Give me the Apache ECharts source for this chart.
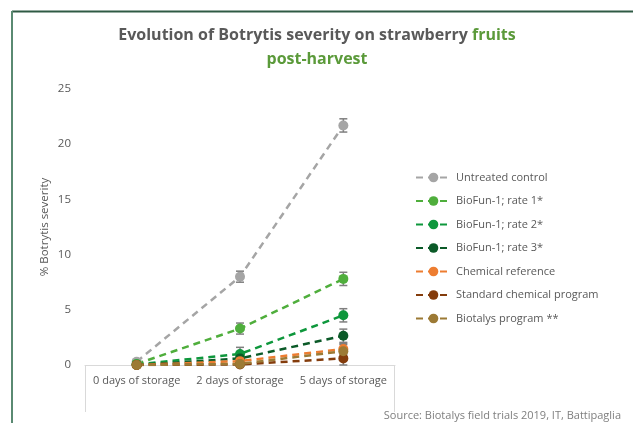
<!DOCTYPE html>
<html>
<head>
<meta charset="utf-8">
<script src="https://cdn.jsdelivr.net/npm/echarts@6/dist/echarts.min.js"></script>
<style>
  html, body { margin: 0; padding: 0; background: #fff; }
  #chart { width: 633px; height: 423px; }
</style>
</head>
<body>
<div id="chart"></div>
<script>
const categories = ["0 days of storage", "2 days of storage", "5 days of storage"];

const untreated = [0.3, 8.0, 21.7];
const rate1 = [0.1, 3.3, 7.8];
const rate2 = [0.05, 1.0, 4.5];
const rate3 = [0.0, 0.6, 2.65];
const chemRef = [0.0, 0.35, 1.45];
const stdChem = [0.0, 0.05, 0.6];
const biotalys = [0.0, 0.1, 1.25];

const untreatedErr = [0.2, 0.5, 0.6];
const rate1Err = [0.1, 0.5, 0.6];
const rate2Err = [0.0, 0.6, 0.6];
const rate3Err = [0.0, 0.5, 0.6];
const chemRefErr = [0.0, 0.3, 0.5];
const stdChemErr = [0.0, 0.2, 0.6];
const biotalysErr = [0.0, 0.2, 0.6];

const yTicks = [0, 5, 10, 15, 20, 25];

const font = "'Open Sans', sans-serif";
const textGray = "#595959";

const seriesDefs = [
    { name: "Untreated control", data: untreated, err: untreatedErr, color: "#a5a5a5" },
    { name: "BioFun-1; rate 1*", data: rate1, err: rate1Err, color: "#4fae3c" },
    { name: "BioFun-1; rate 2*", data: rate2, err: rate2Err, color: "#0e973c" },
    { name: "BioFun-1; rate 3*", data: rate3, err: rate3Err, color: "#0b5a28" },
    { name: "Chemical reference", data: chemRef, err: chemRefErr, color: "#ed7d31" },
    { name: "Standard chemical program", data: stdChem, err: stdChemErr, color: "#843c0c" },
    { name: "Biotalys program **", data: biotalys, err: biotalysErr, color: "#9c7a35" }
];

const errorBarSeries = (def) => ({
    type: "custom",
    name: def.name + " err",
    z: 1,
    silent: true,
    data: def.data.map((v, i) => [i, v - def.err[i], v + def.err[i]]),
    renderItem: (params, api) => {
        const lo = api.coord([api.value(0), api.value(1)]);
        const hi = api.coord([api.value(0), api.value(2)]);
        if (hi[1] >= lo[1] - 0.5) return null;
        const w = 4;
        const style = { stroke: "#7f7f7f", lineWidth: 1.5 };
        return {
            type: "group",
            children: [
                { type: "line", shape: { x1: lo[0], y1: lo[1], x2: hi[0], y2: hi[1] }, style },
                { type: "line", shape: { x1: lo[0] - w, y1: lo[1], x2: lo[0] + w, y2: lo[1] }, style },
                { type: "line", shape: { x1: hi[0] - w, y1: hi[1], x2: hi[0] + w, y2: hi[1] }, style }
            ]
        };
    }
});

const lineSeries = (def) => ({
    type: "line",
    name: def.name,
    data: def.data,
    z: 2,
    symbol: "circle",
    symbolSize: 10,
    color: def.color,
    itemStyle: { color: def.color },
    lineStyle: { color: def.color, width: 2.5, type: [7, 5] },
    emphasis: { disabled: true }
});

const chart = echarts.init(document.getElementById("chart"));

chart.setOption({
    animation: false,
    backgroundColor: "#fff",
    title: {
        text: "{a|Evolution of Botrytis severity on strawberry }{b|fruits}\n{b|post-harvest}",
        left: 312,
        textAlign: "center",
        top: 18,
        textStyle: {
            rich: {
                a: { fontFamily: font, fontSize: 16, fontWeight: "bold", color: textGray, lineHeight: 24 },
                b: { fontFamily: font, fontSize: 16, fontWeight: "bold", color: "#5b9a3a", lineHeight: 24 }
            }
        }
    },
    legend: {
        orient: "vertical",
        left: 410,
        top: 167,
        itemWidth: 35,
        itemHeight: 12,
        itemGap: 12.5,
        data: seriesDefs.map((d) => d.name),
        textStyle: { fontFamily: font, fontSize: 11, color: textGray }
    },
    grid: { left: 85, right: 238, top: 89, bottom: 58 },
    xAxis: {
        type: "category",
        data: categories,
        axisLine: { show: true, lineStyle: { color: "#d9d9d9", width: 1 } },
        axisTick: { show: false },
        axisLabel: { interval: 0, fontFamily: font, fontSize: 11, color: textGray, margin: 10 }
    },
    yAxis: {
        type: "value",
        min: 0,
        max: 25,
        interval: 5,
        name: "% Botrytis severity",
        nameLocation: "middle",
        nameGap: 34,
        nameTextStyle: { fontFamily: font, fontSize: 11.5, color: textGray },
        axisLine: { show: false },
        axisTick: { show: false },
        splitLine: { show: false },
        axisLabel: {
            fontFamily: font,
            fontSize: 11.5,
            color: textGray,
            margin: 14,
            formatter: (v) => (yTicks.includes(v) ? String(v) : "")
        }
    },
    graphic: [
        { type: "line", shape: { x1: 12, y1: 11.5, x2: 633, y2: 11.5 }, style: { stroke: "#2f5a44", lineWidth: 2 } },
        { type: "line", shape: { x1: 12, y1: 11, x2: 12, y2: 423 }, style: { stroke: "#5a8a72", lineWidth: 2 } },
        { type: "line", shape: { x1: 85.5, y1: 365, x2: 85.5, y2: 412 }, style: { stroke: "#d9d9d9", lineWidth: 1 } },
        { type: "line", shape: { x1: 394.5, y1: 365, x2: 394.5, y2: 412 }, style: { stroke: "#d9d9d9", lineWidth: 1 } },
        {
            type: "text",
            right: 12,
            top: 410,
            style: { text: "Source: Biotalys field trials 2019, IT, Battipaglia", font: "11px " + font, fill: "#7f7f7f" }
        }
    ],
    series: [
        ...seriesDefs.map(errorBarSeries),
        ...seriesDefs.map(lineSeries)
    ]
});
</script>
</body>
</html>
